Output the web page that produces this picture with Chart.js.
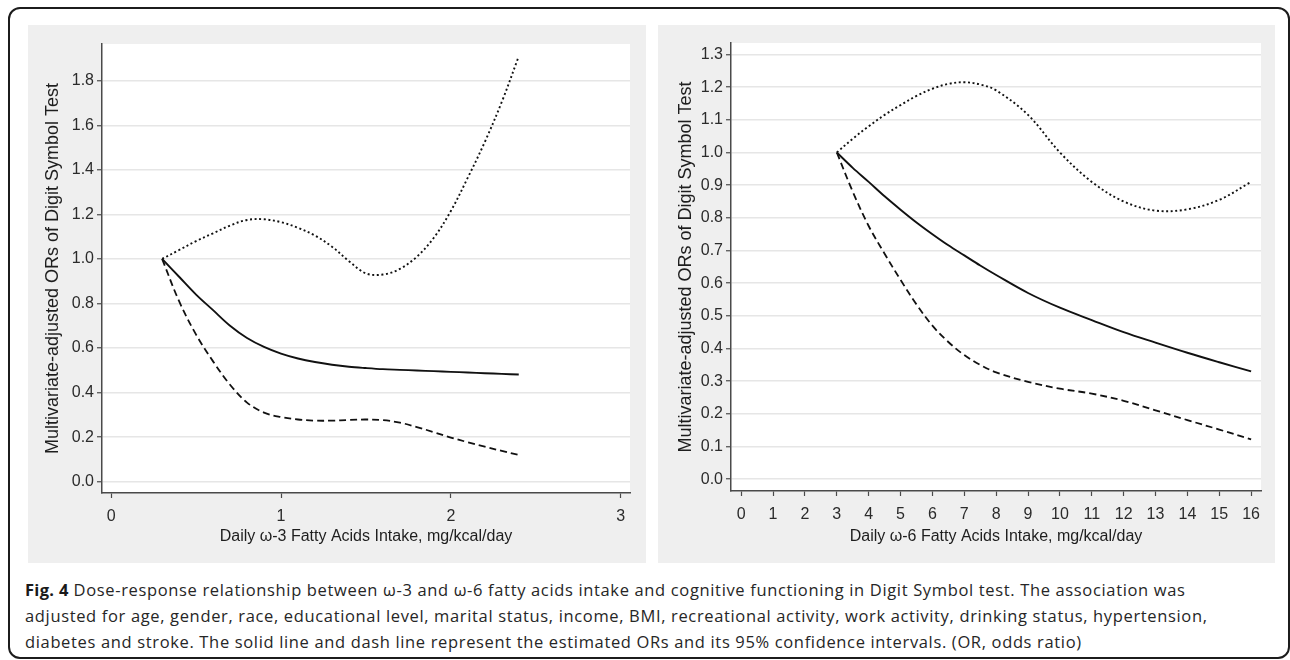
<!DOCTYPE html>
<html>
<head>
<meta charset="utf-8">
<script src="https://cdn.jsdelivr.net/npm/chart.js@4"></script>
<style>
  html, body { margin: 0; padding: 0; background: #fff; }
  body { width: 1290px; height: 660px; position: relative; overflow: hidden; }
  .frame {
    position: absolute; left: 8px; top: 7px; width: 1282px; height: 652px;
    box-sizing: border-box; border: 2px solid #1c1c1c; border-radius: 12px;
  }
  .panel { position: absolute; top: 25px; width: 618px; height: 538px; background: #efefef; }
  #panel-w3 { left: 28px; }
  #panel-w6 { left: 658px; width: 617px; }
  .caption {
    position: absolute; left: 25px; top: 577px; white-space: nowrap;
    font-family: "Open Sans", sans-serif; font-size: 16.5px; letter-spacing: 0.65px;
    line-height: 26px; color: #262626;
  }
  .caption b { font-weight: 700; color: #1a1a1a; letter-spacing: 0.3px; }
</style>
</head>
<body>
<div class="frame"></div>
<div class="panel" id="panel-w3"><canvas id="chart-w3" width="618" height="538"></canvas></div>
<div class="panel" id="panel-w6"><canvas id="chart-w6" width="617" height="538"></canvas></div>
<div class="caption">
  <b>Fig. 4</b> Dose-response relationship between ω-3 and ω-6 fatty acids intake and cognitive functioning in Digit Symbol test. The association was<br>
  adjusted for age, gender, race, educational level, marital status, income, BMI, recreational activity, work activity, drinking status, hypertension,<br>
  diabetes and stroke. The solid line and dash line represent the estimated ORs and its 95% confidence intervals. (OR, odds ratio)
</div>

<script>
// omega-3 panel (left)
const w3X = [0.3, 0.4, 0.5, 0.6, 0.7, 0.8, 0.9, 1.0, 1.1, 1.2, 1.3, 1.4, 1.5, 1.6, 1.7, 1.8, 1.9, 2.0, 2.1, 2.2, 2.3, 2.4];
const w3Or = [1.0, 0.92, 0.84, 0.77, 0.70, 0.645, 0.605, 0.575, 0.553, 0.537, 0.525, 0.516, 0.51, 0.505, 0.502, 0.499, 0.496, 0.493, 0.49, 0.487, 0.484, 0.481];
const w3Upper = [1.0, 1.04, 1.08, 1.115, 1.15, 1.175, 1.178, 1.165, 1.14, 1.105, 1.055, 0.99, 0.935, 0.93, 0.955, 1.01, 1.095, 1.215, 1.365, 1.525, 1.705, 1.91];
const w3Lower = [1.0, 0.81, 0.66, 0.54, 0.435, 0.355, 0.31, 0.29, 0.279, 0.274, 0.274, 0.277, 0.279, 0.276, 0.265, 0.245, 0.222, 0.198, 0.177, 0.157, 0.138, 0.12];
const w3XTicks = [0, 1, 2, 3];
const w3YTicks = [0, 0.2, 0.4, 0.6, 0.8, 1.0, 1.2, 1.4, 1.6, 1.8];

// omega-6 panel (right)
const w6X = [3, 3.5, 4, 4.5, 5, 5.5, 6, 6.5, 7, 7.5, 8, 9, 10, 11, 12, 13, 14, 15, 16];
const w6Or = [1.0, 0.953, 0.91, 0.866, 0.825, 0.786, 0.75, 0.716, 0.685, 0.654, 0.625, 0.57, 0.525, 0.487, 0.45, 0.418, 0.387, 0.358, 0.33];
const w6Upper = [1.0, 1.042, 1.08, 1.115, 1.145, 1.173, 1.195, 1.21, 1.215, 1.208, 1.19, 1.115, 1.0, 0.91, 0.85, 0.822, 0.826, 0.855, 0.91];
const w6Lower = [1.0, 0.88, 0.775, 0.69, 0.61, 0.535, 0.47, 0.42, 0.38, 0.35, 0.327, 0.298, 0.277, 0.262, 0.24, 0.211, 0.181, 0.152, 0.122];
const w6XTicks = [0, 1, 2, 3, 4, 5, 6, 7, 8, 9, 10, 11, 12, 13, 14, 15, 16];
const w6YTicks = [0, 0.1, 0.2, 0.3, 0.4, 0.5, 0.6, 0.7, 0.8, 0.9, 1.0, 1.1, 1.2, 1.3];

const yTitle = 'Multivariate-adjusted ORs of Digit Symbol Test';
const AXIS = '#4a4a4a';
const FONT = "'Liberation Sans', Arial, sans-serif";

// white plot region inside the grey panel
const plotBackground = {
    id: 'plotBackground',
    beforeDraw(chart) {
        const { ctx, chartArea: a } = chart;
        ctx.save();
        ctx.fillStyle = '#ffffff';
        ctx.fillRect(a.left, a.top, a.right - a.left, a.bottom - a.top);
        ctx.restore();
    }
};

function pairs(xs, ys) {
    return xs.map((x, i) => ({ x, y: ys[i] }));
}

function createPanel(id, opts) {
    const ctx = document.getElementById(id);
    const line = (data, dash, width) => ({
        data, borderColor: '#111', borderWidth: width, borderDash: dash,
        pointRadius: 0, tension: 0.35, fill: false
    });

    new Chart(ctx, {
        type: 'line',
        data: {
            datasets: [
                line(pairs(opts.x, opts.upper), [2, 2.6], 1.9),
                line(pairs(opts.x, opts.lower), [7, 4], 1.8),
                line(pairs(opts.x, opts.or), [], 1.9)
            ]
        },
        options: {
            responsive: false,
            animation: false,
            layout: { padding: { left: 0, top: opts.top, right: opts.right, bottom: 0 } },
            scales: {
                x: {
                    type: 'linear',
                    min: opts.xMin, max: opts.xMax,
                    afterFit: s => { s.height = opts.xHeight; },
                    afterBuildTicks: s => { s.ticks = opts.xTicks.map(v => ({ value: v })); },
                    border: { display: true, color: AXIS, width: 1.5 },
                    grid: { drawOnChartArea: false, drawTicks: true, tickLength: 5, tickColor: AXIS, tickWidth: 1.2 },
                    ticks: {
                        color: '#2b2b2b', padding: 9, maxRotation: 0, autoSkip: false,
                        font: { family: FONT, size: 16 },
                        callback: v => String(v)
                    },
                    title: {
                        display: true, text: opts.xTitle, color: '#1e1e1e',
                        font: { family: FONT, size: 16 }, padding: { top: 0, bottom: 17 }
                    }
                },
                y: {
                    min: opts.yMin, max: opts.yMax,
                    afterFit: s => { s.width = opts.yWidth; },
                    afterBuildTicks: s => { s.ticks = opts.yTicks.map(v => ({ value: v })); },
                    border: { display: true, color: AXIS, width: 1.5 },
                    grid: { color: '#e6e6e6', lineWidth: 1.5, drawTicks: true, tickLength: 5, tickColor: AXIS, tickWidth: 1.2 },
                    ticks: {
                        color: '#2b2b2b', padding: 3,
                        font: { family: FONT, size: 16 },
                        callback: v => Number(v).toFixed(1)
                    },
                    title: {
                        display: true, text: yTitle, color: '#1e1e1e',
                        font: { family: FONT, size: 18 }, padding: { top: opts.yTitlePad, bottom: 0 }
                    }
                }
            },
            plugins: {
                legend: { display: false },
                tooltip: { enabled: false }
            }
        },
        plugins: [plotBackground]
    });
}

createPanel('chart-w3', {
    x: w3X, or: w3Or, upper: w3Upper, lower: w3Lower,
    xTicks: w3XTicks, yTicks: w3YTicks,
    xMin: -0.054, xMax: 3.055, yMin: -0.051, yMax: 1.965,
    xTitle: 'Daily ω-3 Fatty Acids Intake, mg/kcal/day',
    top: 19, right: 16, xHeight: 70, yWidth: 74, yTitlePad: 14
});

createPanel('chart-w6', {
    x: w6X, or: w6Or, upper: w6Upper, lower: w6Lower,
    xTicks: w6XTicks, yTicks: w6YTicks,
    xMin: -0.32, xMax: 16.31, yMin: -0.036, yMax: 1.335,
    xTitle: 'Daily ω-6 Fatty Acids Intake, mg/kcal/day',
    top: 18, right: 14, xHeight: 72, yWidth: 73, yTitlePad: 17
});
</script>
</body>
</html>
